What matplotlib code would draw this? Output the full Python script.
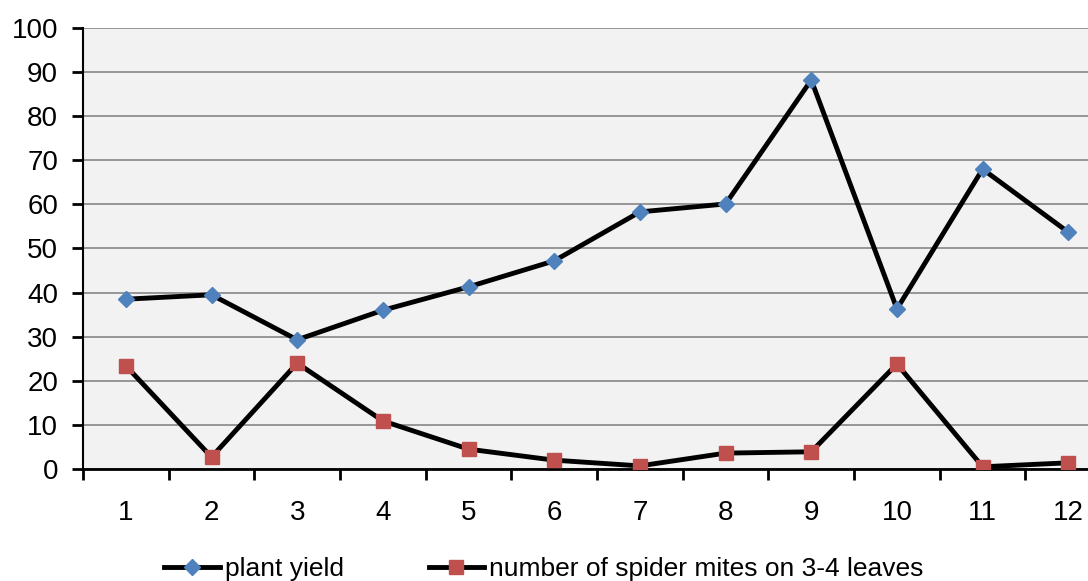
import matplotlib.pyplot as plt
from matplotlib.ticker import FixedLocator, NullFormatter

plt.rcParams['font.family'] = ['Liberation Sans', 'DejaVu Sans']

months = [1, 2, 3, 4, 5, 6, 7, 8, 9, 10, 11, 12]
plant_yield = [38.5, 39.5, 29.3, 36.0, 41.3, 47.2, 58.3, 60.1, 88.2, 36.3, 68.0, 53.7]
spider_mites = [23.4, 2.7, 24.0, 10.9, 4.5, 2.0, 0.7, 3.6, 3.9, 23.8, 0.5, 1.4]
labels = ['plant yield', 'number of spider mites on 3-4 leaves']

fig = plt.figure(figsize=(10.88, 5.81), dpi=100)
ax = fig.add_axes([0.0763, 0.1928, 0.9237, 0.759])
ax.set_facecolor('#f2f2f2')

ax.plot(months, plant_yield, color='black', lw=3.5, marker='D', ms=8,
        mfc='#4f81bd', mec='#4f81bd', label=labels[0], zorder=3)
ax.plot(months, spider_mites, color='black', lw=3.5, marker='s', ms=10,
        mfc='#c0504d', mec='#c0504d', label=labels[1], zorder=3)

ax.set_ylim(0, 100)
ax.set_yticks(range(0, 101, 10))
ax.yaxis.grid(True, color='#868686', lw=1.2)
ax.set_axisbelow(True)
ax.set_xlim(0.5, 12.23)

# category axis: ticks between categories, labels centred on them
ax.set_xticks(months)
ax.tick_params(axis='x', which='major', length=0, pad=22, labelsize=20)
ax.xaxis.set_minor_locator(FixedLocator([m + 0.5 for m in [0] + months]))
ax.xaxis.set_minor_formatter(NullFormatter())
ax.tick_params(axis='x', which='minor', length=8, width=2, direction='out')
ax.tick_params(axis='y', length=8, width=2, pad=10, labelsize=20)

for s in ['top', 'right']:
    ax.spines[s].set_visible(False)
ax.spines['left'].set_linewidth(1.5)
ax.spines['bottom'].set_linewidth(2)

fig.legend(loc='center', bbox_to_anchor=(0.5, 12 / 581), ncol=2, frameon=False,
           fontsize=19, handlelength=2.1, handletextpad=0.2, columnspacing=3.2)

fig.savefig('out.png', dpi=100)
